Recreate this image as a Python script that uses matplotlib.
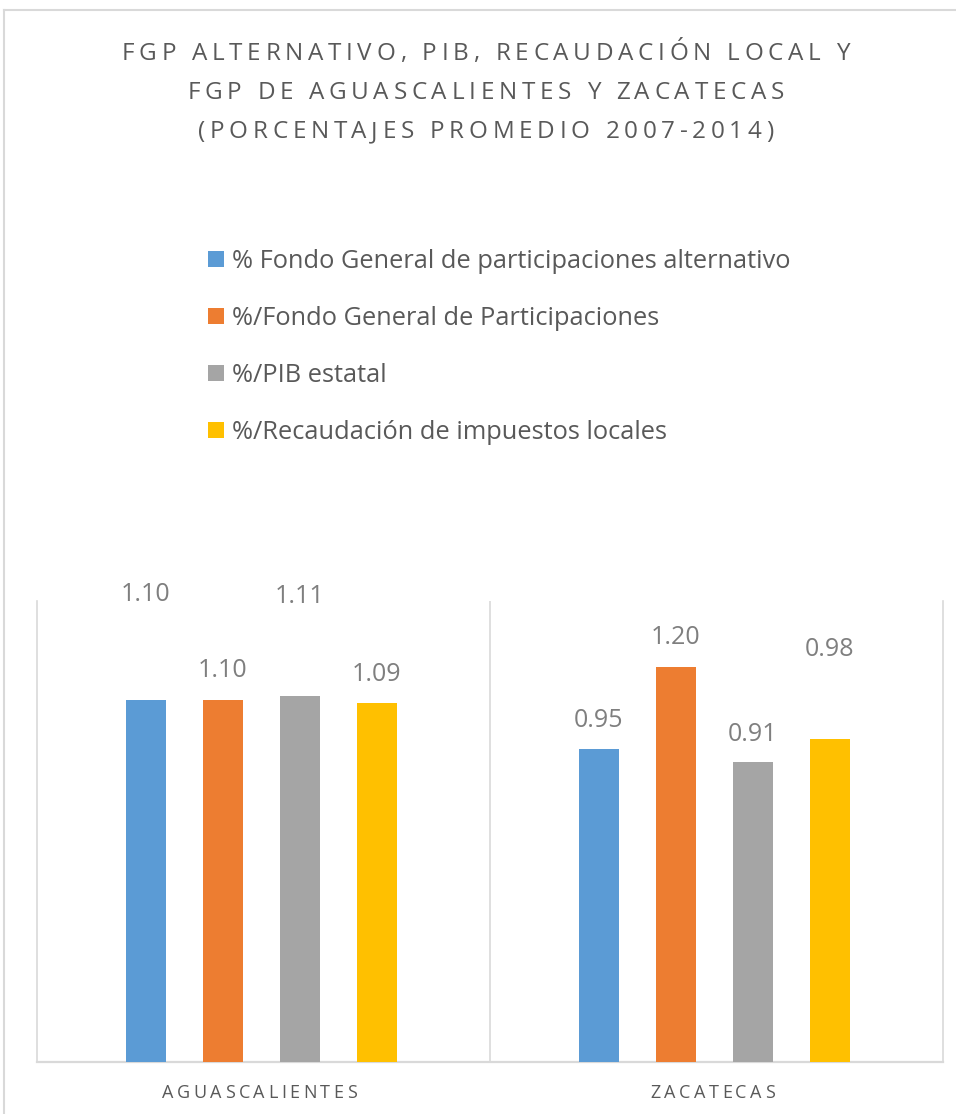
import matplotlib
matplotlib.use("Agg")
import matplotlib.pyplot as plt
import numpy as np
from matplotlib.font_manager import FontProperties, findfont, get_font
from matplotlib.lines import Line2D

STATES = ["AGUASCALIENTES", "ZACATECAS"]
SERIES = [
    "% Fondo General de participaciones alternativo",
    "%/Fondo General de Participaciones",
    "%/PIB estatal",
    "%/Recaudación de impuestos locales",
]
FGP_ALT = [1.10, 0.95]
FGP = [1.10, 1.20]
PIB = [1.11, 0.91]
RECAUDACION = [1.09, 0.98]

COLORS = ["#5B9BD5", "#ED7D31", "#A5A5A5", "#FFC000"]
TITLE = [
    "FGP ALTERNATIVO, PIB, RECAUDACIÓN LOCAL Y",
    "FGP DE AGUASCALIENTES Y ZACATECAS",
    "(PORCENTAJES PROMEDIO 2007-2014)",
]
# label lift above bar top (px), per series then state
LABEL_LIFT = [[105, 29], [29, 29], [100, 28], [29, 90]]

W_PX, H_PX = 956, 1114
FONT = "Open Sans"
GRID = "#D9D9D9"
TXT = "#595959"


def spaced_text(fig, s, cx, base_y, size, spacing, color, weight="normal"):
    """Draw s centred at cx (px) with extra letter spacing, baseline at base_y (px from top)."""
    prop = FontProperties(family=FONT, size=size, weight=weight)
    font = get_font(findfont(prop))
    font.set_size(size, fig.dpi)
    adv = [font.load_char(ord(ch)).linearHoriAdvance / 65536 for ch in s]
    total = sum(adv) + spacing * len(s)
    x = cx - total / 2
    for ch, a in zip(s, adv):
        fig.text(x / W_PX, 1 - base_y / H_PX, ch, fontproperties=prop,
                 color=color, ha="left", va="baseline")
        x += a + spacing


fig = plt.figure(figsize=(W_PX / 100, H_PX / 100), dpi=100)
ax = fig.add_axes([37 / W_PX, 1 - 1062 / H_PX, 906 / W_PX, 461 / H_PX])

values = [FGP_ALT, FGP, PIB, RECAUDACION]
x = np.arange(len(STATES))
step, width = 0.170, 0.088
containers = []
for i, (vals, name, c) in enumerate(zip(values, SERIES, COLORS)):
    pos = x + (i - 1.5) * step - 0.005
    bc = ax.bar(pos, vals, width=width, color=c, label=name, zorder=3)
    containers.append(bc)
    for j, v in enumerate(vals):
        ax.annotate(f"{v:.2f}", (pos[j], v), xytext=(0, LABEL_LIFT[i][j] * 0.72),
                    textcoords="offset points", ha="center", va="center",
                    fontsize=18, color="#7F7F7F", family=FONT)

ax.set_xlim(-0.5, 1.5)
ax.set_ylim(0, 1.4)
ax.axvline(0.5, color=GRID, lw=1.2, zorder=1)
for side in ["left", "right", "bottom"]:
    ax.spines[side].set_color(GRID)
    ax.spines[side].set_linewidth(1.2)
ax.spines["bottom"].set_linewidth(1.6)
ax.spines["top"].set_visible(False)
ax.set_xticks([])
ax.set_yticks([])

# category names under the axis
for j, name in enumerate(STATES):
    cx = ax.transData.transform((x[j] - 0.005, 0))[0]
    spaced_text(fig, name, cx, 1098, 13, 3.5, TXT)

# title
for k, line in enumerate(TITLE):
    spaced_text(fig, line, 488, 59.5 + 39.5 * k, 17.5, 4.7, TXT)

fig.legend(handles=containers, labels=SERIES, loc="center left",
           bbox_to_anchor=(208 / W_PX, 1 - 347 / H_PX), frameon=False,
           labelcolor=TXT, prop={"family": FONT, "size": 18.3},
           handlelength=0.62, handleheight=0.62, handletextpad=0.34,
           labelspacing=1.26, borderpad=0, borderaxespad=0)

# chart frame
fig.add_artist(Line2D([4 / W_PX, 4 / W_PX], [1 - 10 / H_PX, 0], color=GRID, lw=1.5))
fig.add_artist(Line2D([4 / W_PX, 1], [1 - 10 / H_PX, 1 - 10 / H_PX], color=GRID, lw=1.5))

fig.savefig("out.png", dpi=100)
